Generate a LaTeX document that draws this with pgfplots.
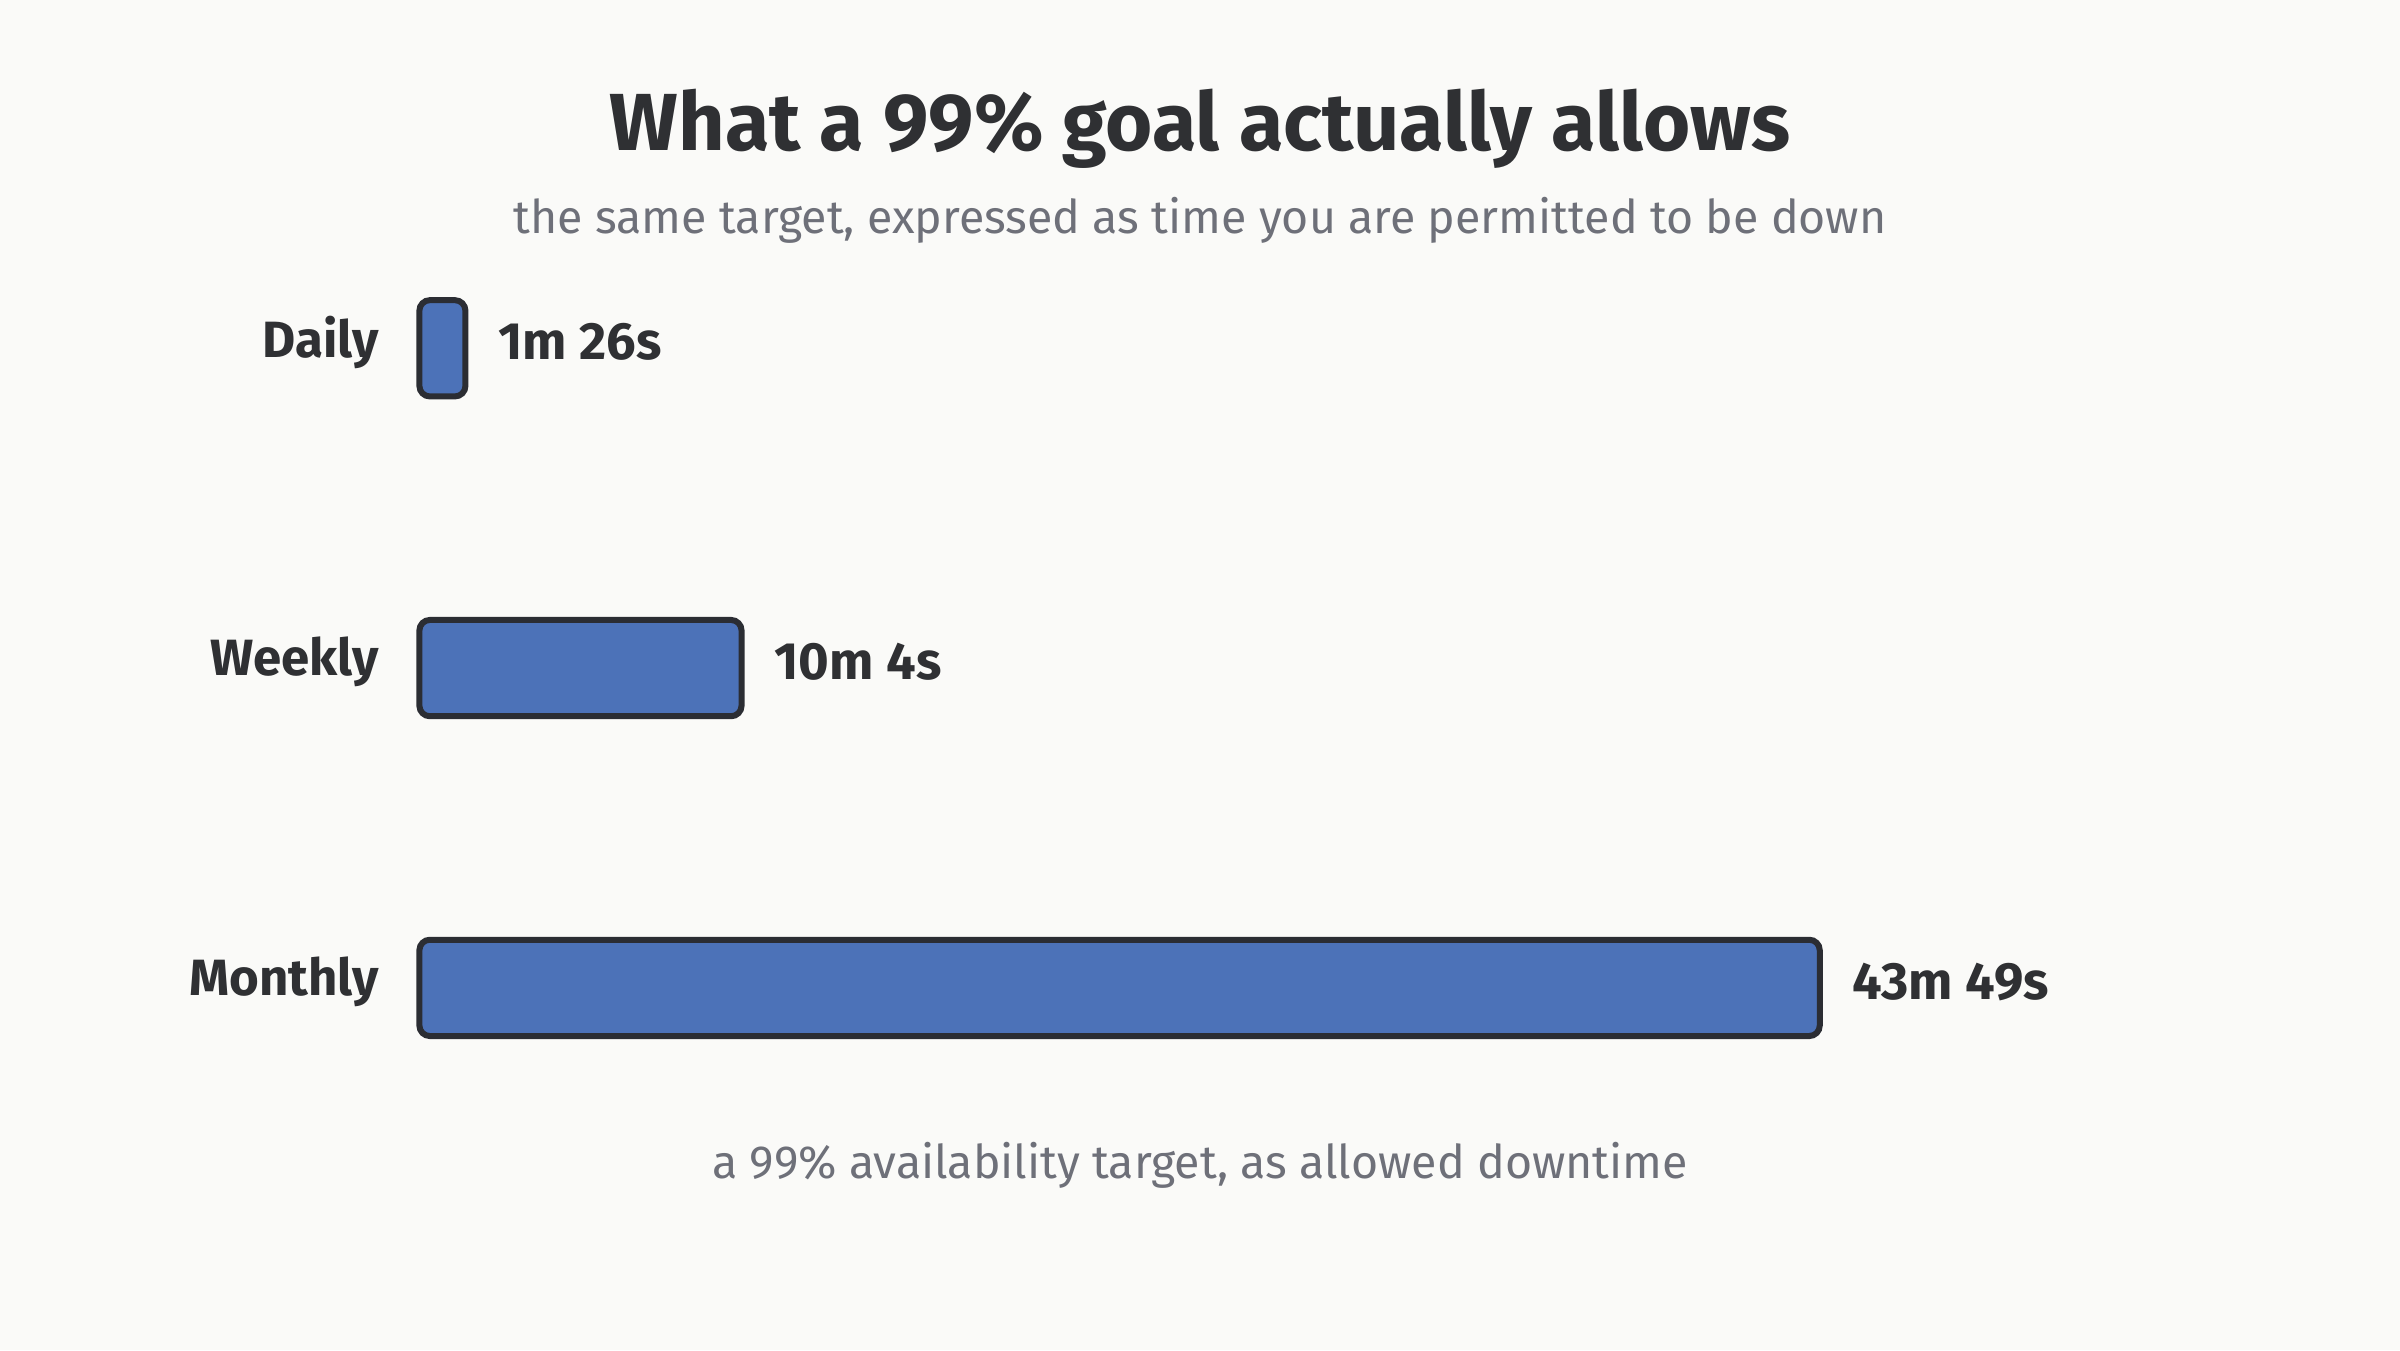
\documentclass[border=0pt]{standalone}
\usepackage{pgfplots}
\pgfplotsset{compat=1.18}
\usepackage{fontspec}
\setmainfont{Fira Sans}
\definecolor{bg}{HTML}{FAFAF8}
\definecolor{barfill}{HTML}{4C72B8}
\definecolor{barline}{HTML}{2B2D33}
\definecolor{ink}{HTML}{2F3033}
\definecolor{muted}{HTML}{6E7079}

\begin{document}
\begin{tikzpicture}
\path[use as bounding box, fill=bg] (0,0) rectangle (800pt,450pt);

% title block
\node[text=ink, font=\fontsize{27}{32}\selectfont\bfseries] at (400pt,407pt) {What a 99\% goal actually allows};
\node[text=muted, font=\fontsize{15.5}{19}\selectfont] at (400pt,376.5pt) {the same target, expressed as time you are permitted to be down};

\begin{axis}[
    at={(139.8pt,67.4pt)}, anchor=south west,
    scale only axis,
    width=532.65pt, height=319.8pt,
    xmin=0, xmax=50,
    ymin=-0.5, ymax=2.5,
    xbar, bar width=32.1pt,
    axis line style={draw=none},
    xtick=\empty,
    ytick={0,1,2},
    yticklabels={Monthly,Weekly,Daily},
    major tick length=0pt,
    yticklabel style={font=\fontsize{17}{20}\selectfont\bfseries, text=ink, inner sep=0pt, anchor=east, xshift=-13.3pt, yshift=2pt},
    point meta=explicit symbolic,
    nodes near coords,
    nodes near coords align=horizontal,
    every node near coord/.append style={font=\fontsize{17.5}{20}\selectfont\bfseries, text=ink, inner sep=0pt, anchor=west, xshift=10pt, yshift=2pt},
    clip=false,
]
% minutes of allowed downtime at 99%
\addplot[fill=barfill, draw=barline, line width=2pt, rounded corners=3.5pt] coordinates {
    (43.817,0) [43m 49s]
    (10.08,1) [10m 4s]
    (1.44,2) [1m 26s]
};
\end{axis}

\node[text=muted, font=\fontsize{15.5}{19}\selectfont] at (400pt,61.7pt) {a 99\% availability target, as allowed downtime};
\end{tikzpicture}
\end{document}
